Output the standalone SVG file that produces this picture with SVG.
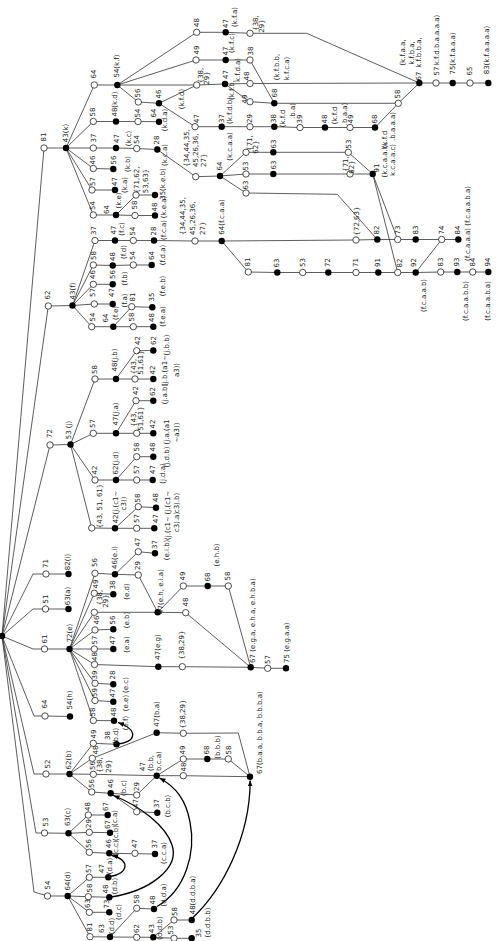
<svg xmlns="http://www.w3.org/2000/svg" width="500" height="941" viewBox="0 0 500 941">
<defs>
<style>
.e path{fill:none;stroke:#333;stroke-width:.8}
.o{fill:#fff;stroke:#222;stroke-width:.8}
.f{fill:#000}
text{font-family:"DejaVu Sans",sans-serif;font-size:7px;fill:#222;text-anchor:middle;dominant-baseline:central}
text.s{text-anchor:start}
.cv path{fill:none;stroke:#000;stroke-width:1.3}
</style>
<marker id="ah" viewBox="0 0 10 10" refX="10" refY="5" markerWidth="6" markerHeight="6" markerUnits="userSpaceOnUse" orient="auto"><path d="M0,1 L10,5 L0,9z" fill="#000"/></marker>
</defs>
<rect width="500" height="941" fill="#fff"/>
<g id="edges" class="e">
<path d="M2 636L44 148M2 636L48.3 306M2 636L50 445M2 636L33 574L46 574M2 636L33 609L45.5 609M2 636L33 649L44.5 649M2 636L34 716L45 716M2 636L34 774L46 774M2 636L36 833L44.5 833M2 636L34 892L47.5 896"/>
<path d="M44 148L66 148M48.3 306L72.5 305.5M50 445L70.5 444.5M46 574L68.5 574M45.5 609L68.5 609M44.5 649L69.5 649M45 716L70 716.5M46 774L69.5 774M44.5 833L68.5 833.3M47.5 896L67.7 896"/>
<path d="M66 148L94.3 85M66 148L93.3 121.5M66 148L93.3 148M66 148L93.3 168.5M66 148L92 190M66 148L93.3 215"/>
<path d="M94.3 85L117.3 85M93.3 121.5L116 121.5L138 121.5L159 121.7M93.3 148L116 148L136.7 148.5L157.3 149.5L195.7 176.7L220 176M93.3 168.5L113.3 169M92 190L115 190M93.3 215L116 215L135 215.5L155 215.5M116 215L136 195L155 195"/>
<path d="M117.3 85L196.7 32.3L225.7 32.3L250 33.3L306.7 33.3L419.3 83M117.3 85L196 60L225.7 60L250 60L274.3 103.3M117.3 85L196.7 85L225 84L250 83.5L419.3 83M225 84L250 101.7L274.3 103.3L398.3 103.3L419.3 83M117.3 85L138.3 102L159 103.3L196.7 85M159 103.3L195 126.7L221.7 126.7L250 126.7L274.3 126.7L300 127.5L325 127.5L350 127.5L375 127.5L398.3 103.3M419.3 83L488.3 83"/>
<path d="M220 176L246 152.3L273.3 152.3L348.3 152.3L372.7 174M220 176L246 174L350 174L372.7 174M220 176L246 193L337.3 194.3L377.3 239.5M372.7 174L397.7 239.5M372.7 174L397.7 272.5"/>
<path d="M72.5 305.5L95 240.5M72.5 305.5L93.3 265M72.5 305.5L93.3 284.3M72.5 305.5L94.3 304M72.5 305.5L91.7 326.7"/>
<path d="M95 240.5L154 240.5L195 241L221.7 241L356 240L377.3 239.5L458.3 239.5M221.7 241L248.3 272L277.3 272.5L415.7 272.5L440.7 272L488.3 272M415.7 272.5L441.7 239.5M93.3 265L112.7 265.5L133.3 265L151.7 265M93.3 284.3L112.7 284.3M94.3 304L112.7 304M91.7 326.7L153.3 326.7M113.3 326.7L131.7 306.7L152.3 307.3"/>
<path d="M70.5 444.5L95 379M70.5 444.5L93.3 433.3M70.5 444.5L95 480M70.5 444.5L91.7 528M95 379L116 379L136.7 350.7L153.3 350.5M116 379L153.3 379M93.3 433.3L116 433.3L136 400.7L153.3 400.7M116 433.3L153.3 433.3M95 480L116 480L136.7 456.7L153.3 456.7M116 480L152.7 480M91.7 528L115 528.3L138.3 506.7L156 507.7M115 528.3L154.3 528.3"/>
<path d="M69.5 649L95 573.3M69.5 649L94.3 593.3M69.5 649L94.3 612.3M69.5 649L95 630M69.5 649L94.3 649M69.5 649L94.5 664.5M69.5 649L95 683.3M69.5 649L95 700.5M69.5 649L93.3 720.5"/>
<path d="M95 573.3L115 574.3L138.3 551.7L155 553.3M115 574.3L138.3 575L157.7 612.3M94.3 593.3L113.3 594.3M94.3 612.3L157.7 612.3L183.3 586L228.3 586L250.7 667.3M157.7 612.3L185.7 612.7L250.7 667.3M95 630L113.3 629.3M94.3 649L113.3 649M94.5 664.5L158.3 666.7L182.3 666.7L250.7 667.3L267.7 668.3L286 668.3M95 683.3L113.3 684.3M95 700.5L113.3 701.7M93.3 720.5L114 720.7"/>
<path d="M69.5 774L93.3 743.3M69.5 774L92.3 758.3M69.5 774L93.3 774.3M69.5 774L91.7 792M93.3 743.3L116.5 744.3M92.3 758.3L156.7 732.7L183.3 733.3L238.3 733L250 776.7M93.3 774.3L156.7 775.7L183.3 775.7L250 776.7M156.7 775.7L183.3 759L228.3 759L250 776.7M91.7 792L110.7 793.3L136.7 795L156.7 775.7M110.7 793.3L136.7 811.7L157.3 812.7"/>
<path d="M68.5 833.3L88.3 815L107.7 815M68.5 833.3L89.3 832.3L110 832.7M68.5 833.3L89.3 852.3L109.3 853.3L155 854"/>
<path d="M67.7 896L89.3 877.3L108.3 877.3M67.7 896L88.3 896.7L109.3 897.3M67.7 896L89.3 912.3L109.3 912.3M67.7 896L90 936.7L110 937L136.7 908.3L154 909M110 937L153.3 937.3L174 920L191.7 920M153.3 937.3L174 938.3L191.7 938.3"/>
</g>
<g id="transpositions" class="cv">
<path marker-end="url(#ah)" d="M117.5 744C134 743 141 731 118 722.5"/>
<path marker-end="url(#ah)" d="M110.5 876.5C128 874 131 860 112 855.5"/>
<path marker-end="url(#ah)" d="M111 897C150 891 180 868 172 845C166 826 140 806 113.5 795.5"/>
<path marker-end="url(#ah)" d="M157 906.5C186 890 196 852 190 822C186 800 176 787 159.5 778"/>
<path marker-end="url(#ah)" d="M193 917.5C222 890 250 838 250.2 780.5"/>
</g>
<g id="root"><circle class="f" cx="2" cy="636" r="3.2"/></g>
<g id="n-81"><circle class="o" cx="44" cy="148" r="3.2"/><text transform="translate(44.3 137)rotate(-90)">81</text></g>
<g id="n-k"><circle class="f" cx="66" cy="148" r="3.2"/><text transform="translate(66 133)rotate(-90)">43(k)</text></g>
<g id="n-k1"><circle class="o" cx="94.3" cy="85" r="3.2"/><text transform="translate(94.3 74)rotate(-90)">64</text></g>
<g id="n-kf"><circle class="f" cx="117.3" cy="85" r="3.2"/><text transform="translate(117.3 66)rotate(-90)">54(k.f)</text></g>
<g id="n-k2"><circle class="o" cx="93.3" cy="121.5" r="3.2"/><text transform="translate(93.3 112)rotate(-90)">58</text></g>
<g id="n-kd"><circle class="f" cx="116" cy="121.5" r="3.2"/><text transform="translate(115 104)rotate(-90)">48(k.d)</text></g>
<g id="n-kd1"><circle class="o" cx="138" cy="121.5" r="3.2"/><text transform="translate(138.3 113)rotate(-90)">54</text></g>
<g id="n-kda"><circle class="f" cx="159" cy="121.7" r="3.2"/><text transform="translate(154 113)rotate(-90)">64</text><text transform="translate(165 120)rotate(-90)">(k.d.a)</text></g>
<g id="n-k3"><circle class="o" cx="93.3" cy="148" r="3.2"/><text transform="translate(94.3 138)rotate(-90)">37</text></g>
<g id="n-kc"><circle class="f" cx="116" cy="148" r="3.2"/><text transform="translate(116.5 138.5)rotate(-90)">47</text><text transform="translate(128.5 138.5)rotate(-90)">(k.c)</text></g>
<g id="n-kc1"><circle class="o" cx="136.7" cy="148.5" r="3.2"/><text transform="translate(136.7 139.5)rotate(-90)">54</text></g>
<g id="n-kca"><circle class="f" cx="157.3" cy="149.5" r="3.2"/><text transform="translate(157.3 140)rotate(-90)">28</text><text transform="translate(165 155)rotate(-90)">(k.c.a)</text></g>
<g id="n-kca1"><circle class="o" cx="195.7" cy="176.7" r="3.2"/><text class="s" transform="translate(187.3 167)rotate(-90)">{34,44,35,</text><text class="s" transform="translate(195.7 167)rotate(-90)">45,26,36,</text><text class="s" transform="translate(204 167)rotate(-90)">27}</text></g>
<g id="n-kcaa"><circle class="f" cx="220" cy="176" r="3.2"/><text transform="translate(220 166)rotate(-90)">64</text><text transform="translate(230 146.5)rotate(-90)">(k.c.a.a)</text></g>
<g id="n-k4"><circle class="o" cx="93.3" cy="168.5" r="3.2"/><text transform="translate(93.3 160)rotate(-90)">46</text></g>
<g id="n-kb"><circle class="f" cx="113.3" cy="169" r="3.2"/><text transform="translate(114 160)rotate(-90)">56</text><text transform="translate(128 164)rotate(-90)">(k.b)</text></g>
<g id="n-k5"><circle class="o" cx="92" cy="190" r="3.2"/><text transform="translate(93 181.5)rotate(-90)">57</text></g>
<g id="n-ka"><circle class="f" cx="115" cy="190" r="3.2"/><text transform="translate(115 181.5)rotate(-90)">47</text><text transform="translate(125 185)rotate(-90)">(k.a)</text></g>
<g id="n-k6"><circle class="o" cx="93.3" cy="215" r="3.2"/><text transform="translate(93.3 205.5)rotate(-90)">54</text></g>
<g id="n-ke"><circle class="f" cx="116" cy="215" r="3.2"/><text transform="translate(106.7 209.5)rotate(-90)">64</text><text transform="translate(119.3 200.5)rotate(-90)">(k.e)</text></g>
<g id="n-ke1"><circle class="o" cx="135" cy="215.5" r="3.2"/><text transform="translate(135 205)rotate(-90)">58</text></g>
<g id="n-kea"><circle class="f" cx="155" cy="215.5" r="3.2"/><text transform="translate(155 207)rotate(-90)">48</text><text transform="translate(164 207)rotate(-90)">(k.e.a)</text></g>
<g id="n-ke2"><circle class="o" cx="136" cy="195" r="3.2"/><text transform="translate(137 180)rotate(-90)">{71,62,</text><text transform="translate(146 181)rotate(-90)">53,63}</text></g>
<g id="n-keb"><circle class="f" cx="155" cy="195" r="3.2"/><text transform="translate(163.3 184)rotate(-90)">35(k.e.b)</text></g>
<g id="n-kf1"><circle class="o" cx="196.7" cy="32.3" r="3.2"/><text transform="translate(197 22.5)rotate(-90)">48</text></g>
<g id="n-kfa"><circle class="f" cx="225.7" cy="32.3" r="3.2"/><text transform="translate(226 23.5)rotate(-90)">47</text><text transform="translate(234.5 17)rotate(-90)">(k.f.a)</text></g>
<g id="n-kfa1"><circle class="o" cx="250" cy="33.3" r="3.2"/><text transform="translate(255.5 23)rotate(-90)">{38,</text><text transform="translate(262 26)rotate(-90)">29}</text></g>
<g id="n-kf2"><circle class="o" cx="196" cy="60" r="3.2"/><text transform="translate(197 50)rotate(-90)">49</text></g>
<g id="n-kfc"><circle class="f" cx="225.7" cy="60" r="3.2"/><text transform="translate(226 51)rotate(-90)">47</text><text transform="translate(232 43)rotate(-90)">(k.f.c)</text></g>
<g id="n-kfc1"><circle class="o" cx="250" cy="60" r="3.2"/><text transform="translate(251 51)rotate(-90)">38</text></g>
<g id="n-kf3"><circle class="o" cx="196.7" cy="85" r="3.2"/><text transform="translate(200.5 75.5)rotate(-90)">{38,</text><text transform="translate(206.5 78)rotate(-90)">29}</text></g>
<g id="n-kfb"><circle class="f" cx="225" cy="84" r="3.2"/><text transform="translate(226 74.5)rotate(-90)">47</text><text transform="translate(231.5 90)rotate(-90)">(k.f.b,</text><text transform="translate(238 70)rotate(-90)">k.f.d.a)</text></g>
<g id="n-kfb1"><circle class="o" cx="250" cy="83.5" r="3.2"/><text transform="translate(246.5 76)rotate(-90)">48</text></g>
<g id="n-kfb2"><circle class="o" cx="250" cy="101.7" r="3.2"/><text transform="translate(245 99)rotate(-90)">49</text></g>
<g id="n-kfbb"><circle class="f" cx="274.3" cy="103.3" r="3.2"/><text transform="translate(275 93)rotate(-90)">68</text><text transform="translate(277 67)rotate(-90)">(k.f.b.b,</text><text transform="translate(286.7 68.5)rotate(-90)">k.f.c.a)</text></g>
<g id="n-kf4"><circle class="o" cx="138.3" cy="102" r="3.2"/><text transform="translate(138.3 93)rotate(-90)">56</text></g>
<g id="n-kfd"><circle class="f" cx="159" cy="103.3" r="3.2"/><text transform="translate(159 94)rotate(-90)">46</text><text transform="translate(181.7 99)rotate(-90)">(k.f.d)</text></g>
<g id="n-kfd1"><circle class="o" cx="195" cy="126.7" r="3.2"/><text transform="translate(196.7 118.5)rotate(-90)">47</text></g>
<g id="n-kfdb"><circle class="f" cx="221.7" cy="126.7" r="3.2"/><text transform="translate(221.7 118.5)rotate(-90)">37</text><text transform="translate(230 110.5)rotate(-90)">(k.f.d.b)</text></g>
<g id="n-kfdb1"><circle class="o" cx="250" cy="126.7" r="3.2"/><text transform="translate(250 118.5)rotate(-90)">29</text></g>
<g id="n-kfdba"><circle class="f" cx="274.3" cy="126.7" r="3.2"/><text transform="translate(274 118.5)rotate(-90)">38</text><text transform="translate(283.3 118.5)rotate(-90)">(k.f.d</text><text transform="translate(293.3 111)rotate(-90)">.b.a)</text></g>
<g id="n-kfdba1"><circle class="o" cx="300" cy="127.5" r="3.2"/><text transform="translate(300 119)rotate(-90)">39</text></g>
<g id="n-kfdbaa"><circle class="f" cx="325" cy="127.5" r="3.2"/><text transform="translate(325 119)rotate(-90)">48</text><text transform="translate(335 115.5)rotate(-90)">(k.f.d</text><text transform="translate(344.5 114)rotate(-90)">.b.a.a)</text></g>
<g id="n-kfdbaa1"><circle class="o" cx="350" cy="127.5" r="3.2"/><text transform="translate(350.5 119)rotate(-90)">49</text></g>
<g id="n-kfdbaaa"><circle class="f" cx="375" cy="127.5" r="3.2"/><text transform="translate(375 119)rotate(-90)">68</text><text transform="translate(385 139.5)rotate(-90)">(k.f.d</text><text transform="translate(393.3 126.5)rotate(-90)">.b.a.a.a)</text></g>
<g id="n-kf5"><circle class="o" cx="398.3" cy="103.3" r="3.2"/><text transform="translate(398.3 94)rotate(-90)">58</text></g>
<g id="n-kfaa"><circle class="f" cx="419.3" cy="83" r="3.2"/><text transform="translate(419.3 76)rotate(-90)">67</text><text transform="translate(403.3 52.5)rotate(-90)">(k.f.a.a,</text><text transform="translate(411.7 53)rotate(-90)">k.f.b.a,</text><text transform="translate(419.3 52.5)rotate(-90)">k.f.b.b.a,</text><text transform="translate(436.7 40)rotate(-90)">k.f.d.b.a.a.a.a)</text></g>
<g id="n-kf6"><circle class="o" cx="436" cy="83" r="3.2"/><text transform="translate(436.7 71)rotate(-90)">57</text></g>
<g id="n-kfaaa"><circle class="f" cx="452.7" cy="83" r="3.2"/><text transform="translate(453.3 53.5)rotate(-90)">75(k.f.a.a.a)</text></g>
<g id="n-kf7"><circle class="o" cx="470" cy="83" r="3.2"/><text transform="translate(470 71)rotate(-90)">65</text></g>
<g id="n-kfaaaa"><circle class="f" cx="488.3" cy="83" r="3.2"/><text transform="translate(487.3 50)rotate(-90)">83(k.f.a.a.a.a)</text></g>
<g id="n-q1"><circle class="o" cx="246" cy="152.3" r="3.2"/><text transform="translate(249.5 143)rotate(-90)">{71,</text><text transform="translate(256 147)rotate(-90)">62}</text></g>
<g id="n-q2"><circle class="o" cx="246" cy="174" r="3.2"/><text transform="translate(246 166)rotate(-90)">53</text></g>
<g id="n-q3"><circle class="o" cx="246" cy="193" r="3.2"/><text transform="translate(246 185)rotate(-90)">63</text></g>
<g id="n-q4"><circle class="f" cx="273.3" cy="152.3" r="3.2"/><text transform="translate(274 144)rotate(-90)">63</text></g>
<g id="n-q5"><circle class="f" cx="273.3" cy="174" r="3.2"/><text transform="translate(274 165)rotate(-90)">63</text></g>
<g id="n-q6"><circle class="o" cx="348.3" cy="152.3" r="3.2"/><text transform="translate(349 144)rotate(-90)">53</text></g>
<g id="n-q7"><circle class="o" cx="350" cy="174" r="3.2"/><text transform="translate(345.5 164)rotate(-90)">{71,</text><text transform="translate(352 167)rotate(-90)">62}</text></g>
<g id="n-q8"><circle class="f" cx="372.7" cy="174" r="3.2"/><text transform="translate(377 168)rotate(-90)">91</text><text transform="translate(385 160)rotate(-90)">(k.c.a.a.b,</text><text transform="translate(393.3 160)rotate(-90)">k.c.a.a.c)</text></g>
<g id="n-r1"><circle class="o" cx="356" cy="240" r="3.2"/><text transform="translate(356.5 221)rotate(-90)">{72,63}</text></g>
<g id="n-r2"><circle class="f" cx="377.3" cy="239.5" r="3.2"/><text transform="translate(377.3 230)rotate(-90)">82</text></g>
<g id="n-r3"><circle class="o" cx="397.7" cy="239.5" r="3.2"/><text transform="translate(398 230)rotate(-90)">73</text></g>
<g id="n-r4"><circle class="f" cx="415.7" cy="239.5" r="3.2"/><text transform="translate(415.7 230)rotate(-90)">83</text></g>
<g id="n-r5"><circle class="o" cx="441.7" cy="239.5" r="3.2"/><text transform="translate(441.7 230)rotate(-90)">74</text></g>
<g id="n-r6"><circle class="f" cx="458.3" cy="239.5" r="3.2"/><text transform="translate(457.5 230)rotate(-90)">84</text><text transform="translate(467.5 223.5)rotate(-90)">(f.c.a.a.a) (f.c.a.a.b.a)</text></g>
<g id="n-s1"><circle class="o" cx="248.3" cy="272" r="3.2"/><text transform="translate(248.3 262)rotate(-90)">81</text></g>
<g id="n-s2"><circle class="f" cx="277.3" cy="272.5" r="3.2"/><text transform="translate(277.3 263)rotate(-90)">63</text></g>
<g id="n-s3"><circle class="o" cx="302.7" cy="272.5" r="3.2"/><text transform="translate(303 262.5)rotate(-90)">53</text></g>
<g id="n-s4"><circle class="f" cx="328.3" cy="272.5" r="3.2"/><text transform="translate(328.3 262.5)rotate(-90)">72</text></g>
<g id="n-s5"><circle class="o" cx="356" cy="272.5" r="3.2"/><text transform="translate(356 262.5)rotate(-90)">71</text></g>
<g id="n-s6"><circle class="f" cx="378.3" cy="272.5" r="3.2"/><text transform="translate(378.3 262.5)rotate(-90)">91</text></g>
<g id="n-s7"><circle class="o" cx="397.7" cy="272.5" r="3.2"/><text transform="translate(399.5 263)rotate(-90)">82</text></g>
<g id="n-s8"><circle class="f" cx="415.7" cy="272.5" r="3.2"/><text transform="translate(413.5 262.5)rotate(-90)">92</text><text transform="translate(424.3 295.5)rotate(-90)">(f.c.a.a.b)</text></g>
<g id="n-s9"><circle class="o" cx="440.7" cy="272" r="3.2"/><text transform="translate(440.7 262)rotate(-90)">83</text></g>
<g id="n-s10"><circle class="f" cx="457.3" cy="272" r="3.2"/><text transform="translate(457.3 262)rotate(-90)">93</text><text transform="translate(466 301)rotate(-90)">(f.c.a.a.b.b)</text></g>
<g id="n-s11"><circle class="o" cx="472.7" cy="272" r="3.2"/><text transform="translate(472.7 262)rotate(-90)">84</text></g>
<g id="n-s12"><circle class="f" cx="488.3" cy="272" r="3.2"/><text transform="translate(488.3 262)rotate(-90)">94</text><text transform="translate(488.3 301)rotate(-90)">(f.c.a.a.b.a)</text></g>
<g id="n-62"><circle class="o" cx="48.3" cy="306" r="3.2"/><text transform="translate(48.3 295)rotate(-90)">62</text></g>
<g id="n-f"><circle class="f" cx="72.5" cy="305.5" r="3.2"/><text transform="translate(72.7 291)rotate(-90)">43(f)</text></g>
<g id="n-f1"><circle class="o" cx="95" cy="240.5" r="3.2"/><text transform="translate(94 230.5)rotate(-90)">37</text></g>
<g id="n-fc"><circle class="f" cx="115" cy="240.5" r="3.2"/><text transform="translate(113.5 230)rotate(-90)">47</text><text transform="translate(121.7 229)rotate(-90)">(f.c)</text></g>
<g id="n-fc1"><circle class="o" cx="133.3" cy="240.5" r="3.2"/><text transform="translate(133.3 231)rotate(-90)">54</text></g>
<g id="n-fca"><circle class="f" cx="154" cy="240.5" r="3.2"/><text transform="translate(154 231)rotate(-90)">28</text><text transform="translate(164 230)rotate(-90)">(f.c.a)</text></g>
<g id="n-fca1"><circle class="o" cx="195" cy="241" r="3.2"/><text class="s" transform="translate(183 235)rotate(-90)">{34,44,35,</text><text class="s" transform="translate(193 235)rotate(-90)">45,26,36,</text><text class="s" transform="translate(203 235)rotate(-90)">27}</text></g>
<g id="n-fcaa"><circle class="f" cx="221.7" cy="241" r="3.2"/><text transform="translate(221.7 217)rotate(-90)">64(f.c.a.a)</text></g>
<g id="n-f2"><circle class="o" cx="93.3" cy="265" r="3.2"/><text transform="translate(94.3 255.5)rotate(-90)">58</text></g>
<g id="n-fd"><circle class="f" cx="112.7" cy="265.5" r="3.2"/><text transform="translate(112.7 256.5)rotate(-90)">48</text><text transform="translate(124 252)rotate(-90)">(f.d)</text></g>
<g id="n-fd1"><circle class="o" cx="133.3" cy="265" r="3.2"/><text transform="translate(133.3 255.5)rotate(-90)">54</text></g>
<g id="n-fda"><circle class="f" cx="151.7" cy="265" r="3.2"/><text transform="translate(151.7 255.5)rotate(-90)">64</text><text transform="translate(163.3 255)rotate(-90)">(f.d.a)</text></g>
<g id="n-f3"><circle class="o" cx="93.3" cy="284.3" r="3.2"/><text transform="translate(93.3 274.5)rotate(-90)">46</text></g>
<g id="n-fb"><circle class="f" cx="112.7" cy="284.3" r="3.2"/><text transform="translate(113.3 274.5)rotate(-90)">56</text><text transform="translate(124.5 278.5)rotate(-90)">(f.b)</text></g>
<g id="n-f4"><circle class="o" cx="94.3" cy="304" r="3.2"/><text transform="translate(93.3 292.5)rotate(-90)">57</text></g>
<g id="n-fa"><circle class="f" cx="112.7" cy="304" r="3.2"/><text transform="translate(111.7 292.5)rotate(-90)">47</text><text transform="translate(124.5 300.5)rotate(-90)">(f.a)</text></g>
<g id="n-f5"><circle class="o" cx="91.7" cy="326.7" r="3.2"/><text transform="translate(92.7 317)rotate(-90)">54</text></g>
<g id="n-fe"><circle class="f" cx="113.3" cy="326.7" r="3.2"/><text transform="translate(106 318)rotate(-90)">64</text><text transform="translate(115.5 313)rotate(-90)">(f.e)</text></g>
<g id="n-fe1"><circle class="o" cx="131.7" cy="306.7" r="3.2"/><text transform="translate(133 297)rotate(-90)">81</text></g>
<g id="n-feb"><circle class="f" cx="152.3" cy="307.3" r="3.2"/><text transform="translate(151.7 297)rotate(-90)">35</text><text transform="translate(163.3 286)rotate(-90)">(f.e.b)</text></g>
<g id="n-fe2"><circle class="o" cx="133.3" cy="326.7" r="3.2"/><text transform="translate(132.3 317)rotate(-90)">58</text></g>
<g id="n-fea"><circle class="f" cx="153.3" cy="326.7" r="3.2"/><text transform="translate(152 317.5)rotate(-90)">48</text><text transform="translate(163.3 316.5)rotate(-90)">(f.e.a)</text></g>
<g id="n-72"><circle class="o" cx="50" cy="445" r="3.2"/><text transform="translate(50 433.5)rotate(-90)">72</text></g>
<g id="n-j"><circle class="f" cx="70.5" cy="444.5" r="3.2"/><text transform="translate(69 430)rotate(-90)">53 (j)</text></g>
<g id="n-j1"><circle class="o" cx="95" cy="379" r="3.2"/><text transform="translate(95 369.5)rotate(-90)">58</text></g>
<g id="n-jb"><circle class="f" cx="116" cy="379" r="3.2"/><text transform="translate(115 360)rotate(-90)">48(j.b)</text></g>
<g id="n-jb1"><circle class="o" cx="136.7" cy="350.7" r="3.2"/><text transform="translate(138 340.5)rotate(-90)">42</text></g>
<g id="n-jbb"><circle class="f" cx="153.3" cy="350.5" r="3.2"/><text transform="translate(154.3 340.5)rotate(-90)">62</text><text transform="translate(166.7 345)rotate(-90)">(j.b.b)</text></g>
<g id="n-jb2"><circle class="o" cx="135" cy="379" r="3.2"/><text transform="translate(134 366.5)rotate(-90)">{43,</text><text transform="translate(140.5 362.5)rotate(-90)">51,61}</text></g>
<g id="n-jba"><circle class="f" cx="153.3" cy="379" r="3.2"/><text transform="translate(153.3 370)rotate(-90)">42</text><text transform="translate(165 370.5)rotate(-90)">(j.b.(a1~</text><text transform="translate(176.7 370)rotate(-90)">a3))</text></g>
<g id="n-j2"><circle class="o" cx="93.3" cy="433.3" r="3.2"/><text transform="translate(93.3 423.5)rotate(-90)">57</text></g>
<g id="n-ja"><circle class="f" cx="116" cy="433.3" r="3.2"/><text transform="translate(116 414)rotate(-90)">47(j.a)</text></g>
<g id="n-ja1"><circle class="o" cx="136" cy="400.7" r="3.2"/><text transform="translate(136 390.5)rotate(-90)">42</text></g>
<g id="n-jab"><circle class="f" cx="153.3" cy="400.7" r="3.2"/><text transform="translate(153.3 391.5)rotate(-90)">62</text><text transform="translate(165 394)rotate(-90)">(j.a.b)</text></g>
<g id="n-ja2"><circle class="o" cx="136.7" cy="433.3" r="3.2"/><text transform="translate(134 419)rotate(-90)">{43,</text><text transform="translate(140.5 418.5)rotate(-90)">51,61}</text></g>
<g id="n-jaa"><circle class="f" cx="153.3" cy="433.3" r="3.2"/><text transform="translate(153.3 424)rotate(-90)">42</text><text transform="translate(166.7 432)rotate(-90)">(j.a.(a1</text><text transform="translate(176.7 432.5)rotate(-90)">~a3))</text></g>
<g id="n-j3"><circle class="o" cx="95" cy="480" r="3.2"/><text transform="translate(95 470)rotate(-90)">42</text></g>
<g id="n-jd"><circle class="f" cx="116" cy="480" r="3.2"/><text transform="translate(116 463)rotate(-90)">62(j.d)</text></g>
<g id="n-jd1"><circle class="o" cx="136.7" cy="456.7" r="3.2"/><text transform="translate(136.7 447)rotate(-90)">58</text></g>
<g id="n-jdb"><circle class="f" cx="153.3" cy="456.7" r="3.2"/><text transform="translate(153.3 447)rotate(-90)">48</text><text transform="translate(167 457)rotate(-90)">(j.d.b)</text></g>
<g id="n-jd2"><circle class="o" cx="136.7" cy="480" r="3.2"/><text transform="translate(136.7 469.5)rotate(-90)">57</text></g>
<g id="n-jda"><circle class="f" cx="152.7" cy="480" r="3.2"/><text transform="translate(153.3 469.5)rotate(-90)">47</text><text transform="translate(162.7 473.5)rotate(-90)">(j.d.a)</text></g>
<g id="n-j4"><circle class="o" cx="91.7" cy="528" r="3.2"/><text transform="translate(100 506)rotate(-90)">{43, 51, 61}</text></g>
<g id="n-jc"><circle class="f" cx="115" cy="528.3" r="3.2"/><text transform="translate(115.5 507)rotate(-90)">42(j.(c1~</text><text transform="translate(123.5 503.5)rotate(-90)">c3))</text></g>
<g id="n-jc1"><circle class="o" cx="138.3" cy="506.7" r="3.2"/><text transform="translate(138.3 498)rotate(-90)">58</text></g>
<g id="n-jcb"><circle class="f" cx="156" cy="507.7" r="3.2"/><text transform="translate(156 497.5)rotate(-90)">48</text><text transform="translate(167.5 502.5)rotate(-90)">(j.(c1~</text><text transform="translate(177 503)rotate(-90)">c3).b)</text></g>
<g id="n-jc2"><circle class="o" cx="136.7" cy="528.3" r="3.2"/><text transform="translate(136.7 518.5)rotate(-90)">57</text></g>
<g id="n-jca"><circle class="f" cx="154.3" cy="528.3" r="3.2"/><text transform="translate(155.5 518.5)rotate(-90)">47</text><text transform="translate(167.5 528)rotate(-90)">(j.(c1~</text><text transform="translate(177 522)rotate(-90)">c3).a)</text></g>
<g id="n-71"><circle class="o" cx="46" cy="574" r="3.2"/><text transform="translate(46 563.5)rotate(-90)">71</text></g>
<g id="n-i"><circle class="f" cx="68.5" cy="574" r="3.2"/><text transform="translate(68.3 562)rotate(-90)">82(i)</text></g>
<g id="n-51"><circle class="o" cx="45.5" cy="609" r="3.2"/><text transform="translate(46 599)rotate(-90)">51</text></g>
<g id="n-a"><circle class="f" cx="68.5" cy="609" r="3.2"/><text transform="translate(68.3 596)rotate(-90)">63(a)</text></g>
<g id="n-61"><circle class="o" cx="44.5" cy="649" r="3.2"/><text transform="translate(44.5 639)rotate(-90)">61</text></g>
<g id="n-e"><circle class="f" cx="69.5" cy="649" r="3.2"/><text transform="translate(70 633)rotate(-90)">72(e)</text></g>
<g id="n-e1"><circle class="o" cx="95" cy="573.3" r="3.2"/><text transform="translate(95 562.5)rotate(-90)">56</text></g>
<g id="n-ei"><circle class="f" cx="115" cy="574.3" r="3.2"/><text transform="translate(115 557.5)rotate(-90)">46(e.i)</text></g>
<g id="n-ei1"><circle class="o" cx="138.3" cy="551.7" r="3.2"/><text transform="translate(138.3 542)rotate(-90)">47</text></g>
<g id="n-eib"><circle class="f" cx="155" cy="553.3" r="3.2"/><text transform="translate(155 544.5)rotate(-90)">37</text><text transform="translate(167 550)rotate(-90)">(e.i.b)</text></g>
<g id="n-ei2"><circle class="o" cx="138.3" cy="575" r="3.2"/><text transform="translate(138.3 565.5)rotate(-90)">29</text></g>
<g id="n-eh"><circle class="f" cx="157.7" cy="612.3" r="3.2"/><text transform="translate(160.5 591.5)rotate(-90)">47(e.h, e.i.a)</text></g>
<g id="n-e2"><circle class="o" cx="94.3" cy="593.3" r="3.2"/><text transform="translate(96 584)rotate(-90)">49</text></g>
<g id="n-ed"><circle class="f" cx="113.3" cy="594.3" r="3.2"/><text transform="translate(113.3 585)rotate(-90)">38</text><text transform="translate(126.7 591.5)rotate(-90)">(e.d)</text></g>
<g id="n-e3"><circle class="o" cx="94.3" cy="612.3" r="3.2"/><text transform="translate(99.5 597.5)rotate(-90)">{38,</text><text transform="translate(105.5 601)rotate(-90)">29}</text></g>
<g id="n-e4"><circle class="o" cx="95" cy="630" r="3.2"/><text transform="translate(97 620)rotate(-90)">46</text></g>
<g id="n-eb"><circle class="f" cx="113.3" cy="629.3" r="3.2"/><text transform="translate(113.3 620)rotate(-90)">56</text><text transform="translate(126.7 620)rotate(-90)">(e.b)</text></g>
<g id="n-e5"><circle class="o" cx="94.3" cy="649" r="3.2"/><text transform="translate(95 640)rotate(-90)">57</text></g>
<g id="n-ea"><circle class="f" cx="113.3" cy="649" r="3.2"/><text transform="translate(113.3 640)rotate(-90)">47</text><text transform="translate(126.7 644.5)rotate(-90)">(e.a)</text></g>
<g id="n-e6"><circle class="o" cx="94.5" cy="664.5" r="3.2"/><text transform="translate(94.5 656.5)rotate(-90)">48</text></g>
<g id="n-eg"><circle class="f" cx="158.3" cy="666.7" r="3.2"/><text transform="translate(158.3 647)rotate(-90)">47(e.g)</text></g>
<g id="n-eg1"><circle class="o" cx="182.3" cy="666.7" r="3.2"/><text transform="translate(182.3 645)rotate(-90)">{38,29}</text></g>
<g id="n-e7"><circle class="o" cx="95" cy="683.3" r="3.2"/><text transform="translate(95 675)rotate(-90)">39</text></g>
<g id="n-ec"><circle class="f" cx="113.3" cy="684.3" r="3.2"/><text transform="translate(113.3 675)rotate(-90)">28</text><text transform="translate(125.5 685)rotate(-90)">(e.c)</text></g>
<g id="n-e8"><circle class="o" cx="95" cy="700.5" r="3.2"/><text transform="translate(95 692.5)rotate(-90)">59</text></g>
<g id="n-ee"><circle class="f" cx="113.3" cy="701.7" r="3.2"/><text transform="translate(113.3 693)rotate(-90)">47</text><text transform="translate(125.5 703)rotate(-90)">(e.e)</text></g>
<g id="n-e9"><circle class="o" cx="93.3" cy="720.5" r="3.2"/><text transform="translate(93.3 712)rotate(-90)">58</text></g>
<g id="n-ef"><circle class="f" cx="114" cy="720.7" r="3.2"/><text transform="translate(114 712)rotate(-90)">48</text><text transform="translate(125.5 723)rotate(-90)">(e.f)</text></g>
<g id="n-eh1"><circle class="o" cx="183.3" cy="586" r="3.2"/><text transform="translate(183.3 576)rotate(-90)">49</text></g>
<g id="n-ehb"><circle class="f" cx="207.7" cy="586" r="3.2"/><text transform="translate(207.7 577)rotate(-90)">68</text><text transform="translate(216.7 555)rotate(-90)">(e.h.b)</text></g>
<g id="n-ehb1"><circle class="o" cx="228.3" cy="586" r="3.2"/><text transform="translate(228.3 576)rotate(-90)">58</text></g>
<g id="n-eh2"><circle class="o" cx="185.7" cy="612.7" r="3.2"/><text transform="translate(185.7 602)rotate(-90)">48</text></g>
<g id="n-ega"><circle class="f" cx="250.7" cy="667.3" r="3.2"/><text class="s" transform="translate(252.5 663)rotate(-90)">67 (e.g.a, e.h.a, e.h.b.a)</text></g>
<g id="n-ega1"><circle class="o" cx="267.7" cy="668.3" r="3.2"/><text transform="translate(267.7 659.5)rotate(-90)">57</text></g>
<g id="n-egaa"><circle class="f" cx="286" cy="668.3" r="3.2"/><text class="s" transform="translate(286.5 663)rotate(-90)">75 (e.g.a.a)</text></g>
<g id="n-64"><circle class="o" cx="45" cy="716" r="3.2"/><text transform="translate(45 704)rotate(-90)">64</text></g>
<g id="n-h"><circle class="f" cx="70" cy="716.5" r="3.2"/><text transform="translate(70 700)rotate(-90)">54(h)</text></g>
<g id="n-52"><circle class="o" cx="46" cy="774" r="3.2"/><text transform="translate(47.5 764)rotate(-90)">52</text></g>
<g id="n-b"><circle class="f" cx="69.5" cy="774" r="3.2"/><text transform="translate(69.3 760)rotate(-90)">62(b)</text></g>
<g id="n-b1"><circle class="o" cx="93.3" cy="743.3" r="3.2"/><text transform="translate(94 734)rotate(-90)">49</text></g>
<g id="n-bd"><circle class="f" cx="116.5" cy="744.3" r="3.2"/><text transform="translate(108 735.5)rotate(-90)">38</text><text transform="translate(115.5 736)rotate(-90)">(b.d)</text></g>
<g id="n-b2"><circle class="o" cx="92.3" cy="758.3" r="3.2"/><text transform="translate(95.5 750)rotate(-90)">48</text></g>
<g id="n-b3"><circle class="o" cx="93.3" cy="774.3" r="3.2"/><text transform="translate(93.3 765.5)rotate(-90)">56</text><text transform="translate(100 765)rotate(-90)">{38,</text><text transform="translate(109 766)rotate(-90)">29}</text></g>
<g id="n-b4"><circle class="o" cx="91.7" cy="792" r="3.2"/><text transform="translate(91.7 783.5)rotate(-90)">56</text></g>
<g id="n-ba"><circle class="f" cx="156.7" cy="732.7" r="3.2"/><text transform="translate(156.7 714)rotate(-90)">47(b.a)</text></g>
<g id="n-ba1"><circle class="o" cx="183.3" cy="733.3" r="3.2"/><text transform="translate(183.3 714)rotate(-90)">{38,29}</text></g>
<g id="n-bb"><circle class="f" cx="156.7" cy="775.7" r="3.2"/><text class="s" transform="translate(143.3 771)rotate(-90)">47</text><text class="s" transform="translate(151 771)rotate(-90)">(b.b,</text><text class="s" transform="translate(159 771)rotate(-90)">b.c.a)</text></g>
<g id="n-bb1"><circle class="o" cx="183.3" cy="759" r="3.2"/><text transform="translate(183.3 750)rotate(-90)">49</text></g>
<g id="n-bbb"><circle class="f" cx="207.3" cy="759" r="3.2"/><text transform="translate(207.3 750)rotate(-90)">68</text><text transform="translate(218 747)rotate(-90)">(b.b.b)</text></g>
<g id="n-bbb1"><circle class="o" cx="228.3" cy="759" r="3.2"/><text transform="translate(229 750)rotate(-90)">58</text></g>
<g id="n-bb2"><circle class="o" cx="183.3" cy="775.7" r="3.2"/><text transform="translate(184 767)rotate(-90)">48</text></g>
<g id="n-baa"><circle class="f" cx="250" cy="776.7" r="3.2"/><text class="s" transform="translate(259.5 774)rotate(-90)">67(b.a.a, b.b.a, b.b.b.a)</text></g>
<g id="n-bc"><circle class="f" cx="110.7" cy="793.3" r="3.2"/><text transform="translate(110.7 783.5)rotate(-90)">46</text><text transform="translate(124 788)rotate(-90)">(b.c)</text></g>
<g id="n-bc1"><circle class="o" cx="136.7" cy="795" r="3.2"/><text transform="translate(136.7 786.5)rotate(-90)">29</text></g>
<g id="n-bc2"><circle class="o" cx="136.7" cy="811.7" r="3.2"/><text transform="translate(135.5 803.5)rotate(-90)">47</text></g>
<g id="n-bcb"><circle class="f" cx="157.3" cy="812.7" r="3.2"/><text transform="translate(157.3 803.5)rotate(-90)">37</text><text transform="translate(168.3 806)rotate(-90)">(b.c.b)</text></g>
<g id="n-53"><circle class="o" cx="44.5" cy="833" r="3.2"/><text transform="translate(46 822)rotate(-90)">53</text></g>
<g id="n-c"><circle class="f" cx="68.5" cy="833.3" r="3.2"/><text transform="translate(68.3 817)rotate(-90)">63(c)</text></g>
<g id="n-c1"><circle class="o" cx="88.3" cy="815" r="3.2"/><text transform="translate(88.3 806.5)rotate(-90)">48</text></g>
<g id="n-ca"><circle class="f" cx="107.7" cy="815" r="3.2"/><text transform="translate(106 806.5)rotate(-90)">67</text><text transform="translate(115 818)rotate(-90)">(c.a)</text></g>
<g id="n-c2"><circle class="o" cx="89.3" cy="832.3" r="3.2"/><text transform="translate(89.3 823.5)rotate(-90)">29</text></g>
<g id="n-cb"><circle class="f" cx="110" cy="832.7" r="3.2"/><text transform="translate(107.7 824.5)rotate(-90)">67</text><text transform="translate(115.5 833)rotate(-90)">(c.b)</text></g>
<g id="n-c3"><circle class="o" cx="89.3" cy="852.3" r="3.2"/><text transform="translate(89.3 843.5)rotate(-90)">56</text></g>
<g id="n-cc"><circle class="f" cx="109.3" cy="853.3" r="3.2"/><text transform="translate(109.3 843.5)rotate(-90)">46</text><text transform="translate(115.5 848)rotate(-90)">(c.c)</text></g>
<g id="n-cc1"><circle class="o" cx="135" cy="853.3" r="3.2"/><text transform="translate(135 843.5)rotate(-90)">47</text></g>
<g id="n-cca"><circle class="f" cx="155" cy="854" r="3.2"/><text transform="translate(155 844)rotate(-90)">37</text><text transform="translate(164 853)rotate(-90)">(c.c.a)</text></g>
<g id="n-54"><circle class="o" cx="47.5" cy="896" r="3.2"/><text transform="translate(47.7 885)rotate(-90)">54</text></g>
<g id="n-d"><circle class="f" cx="67.7" cy="896" r="3.2"/><text transform="translate(67.7 881)rotate(-90)">64(d)</text></g>
<g id="n-d1"><circle class="o" cx="89.3" cy="877.3" r="3.2"/><text transform="translate(89.3 868.5)rotate(-90)">57</text></g>
<g id="n-da"><circle class="f" cx="108.3" cy="877.3" r="3.2"/><text transform="translate(102 868.5)rotate(-90)">47</text><text transform="translate(110 866)rotate(-90)">(d.a)</text></g>
<g id="n-d2"><circle class="o" cx="88.3" cy="896.7" r="3.2"/><text transform="translate(90 888)rotate(-90)">58</text></g>
<g id="n-db"><circle class="f" cx="109.3" cy="897.3" r="3.2"/><text transform="translate(106 889)rotate(-90)">48</text><text transform="translate(115 886)rotate(-90)">(d.b)</text></g>
<g id="n-d3"><circle class="o" cx="89.3" cy="912.3" r="3.2"/><text transform="translate(88.3 903.5)rotate(-90)">63</text></g>
<g id="n-dc"><circle class="f" cx="109.3" cy="912.3" r="3.2"/><text transform="translate(106.5 904)rotate(-90)">73</text><text transform="translate(119 912)rotate(-90)">(d.c)</text></g>
<g id="n-d4"><circle class="o" cx="90" cy="936.7" r="3.2"/><text transform="translate(90 927)rotate(-90)">81</text></g>
<g id="n-dd"><circle class="f" cx="110" cy="937" r="3.2"/><text transform="translate(101.7 928.5)rotate(-90)">63</text><text transform="translate(112 926)rotate(-90)">(d.d)</text></g>
<g id="n-dd1"><circle class="o" cx="136.7" cy="908.3" r="3.2"/><text transform="translate(137 899)rotate(-90)">58</text></g>
<g id="n-dda"><circle class="f" cx="154" cy="909" r="3.2"/><text transform="translate(153.3 900)rotate(-90)">48</text><text transform="translate(164 895)rotate(-90)">(d.d.a)</text></g>
<g id="n-dd2"><circle class="o" cx="136.7" cy="937.3" r="3.2"/><text transform="translate(136.7 928.5)rotate(-90)">62</text></g>
<g id="n-ddb"><circle class="f" cx="153.3" cy="937.3" r="3.2"/><text transform="translate(151.5 928.5)rotate(-90)">43</text><text transform="translate(159.5 928)rotate(-90)">(d.d.b)</text></g>
<g id="n-ddb1"><circle class="o" cx="174" cy="920" r="3.2"/><text transform="translate(175 911.5)rotate(-90)">58</text></g>
<g id="n-ddba"><circle class="f" cx="191.7" cy="920" r="3.2"/><text transform="translate(193.3 895)rotate(-90)">48(d.d.b.a)</text></g>
<g id="n-ddb2"><circle class="o" cx="174" cy="938.3" r="3.2"/><text transform="translate(171 930)rotate(-90)">53</text></g>
<g id="n-ddbb"><circle class="f" cx="191.7" cy="938.3" r="3.2"/><text transform="translate(199.3 933)rotate(-90)">35</text><text transform="translate(208 922.5)rotate(-90)">(d.d.b.b)</text></g>
</svg>
